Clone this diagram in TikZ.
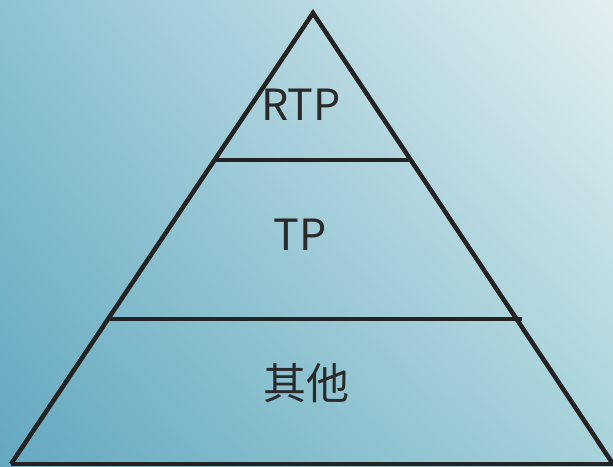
\documentclass[tikz,border=0pt]{standalone}
\usepackage{fontspec}
\setmainfont{Noto Sans CJK SC}
\usetikzlibrary{shadings}
\definecolor{cTL}{HTML}{8EC3D3}
\definecolor{cTR}{HTML}{E2EFF1}
\definecolor{cBL}{HTML}{64A8C0}
\definecolor{cBR}{HTML}{A6D2DA}
\definecolor{lineC}{HTML}{232323}
\definecolor{txtC}{HTML}{2A2A2A}
\tikzset{
  edge/.style={draw=lineC, line width=4.5pt, line join=miter},
  lbl/.style={text=txtC, font=\fontsize{43}{47}\selectfont, inner sep=0pt, anchor=center}
}
\begin{document}
\begin{tikzpicture}[x=1pt,y=-1pt]
\useasboundingbox (0,0) rectangle (613,466);
\shade[upper left=cTL, upper right=cTR, lower left=cBL, lower right=cBR] (0,466) rectangle (613,0);
\coordinate (apex) at (313,13);
\coordinate (bl) at (11,464);
\coordinate (br) at (613,464);
\coordinate (l1a) at (214,160);
\coordinate (l1b) at (412,160);
\coordinate (l2a) at (110,319);
\coordinate (l2b) at (522,319);
\draw[edge] (bl) -- (apex) -- (br);
\draw[edge] (bl) -- (br);
\draw[edge] (l1a) -- (l1b);
\draw[edge] (l2a) -- (l2b);
\node[lbl] (rtp) at (301,105) {RTP};
\node[lbl] (tp) at (300,235) {TP};
\node[lbl] (other) at (306,383) {其他};
\end{tikzpicture}
\end{document}
